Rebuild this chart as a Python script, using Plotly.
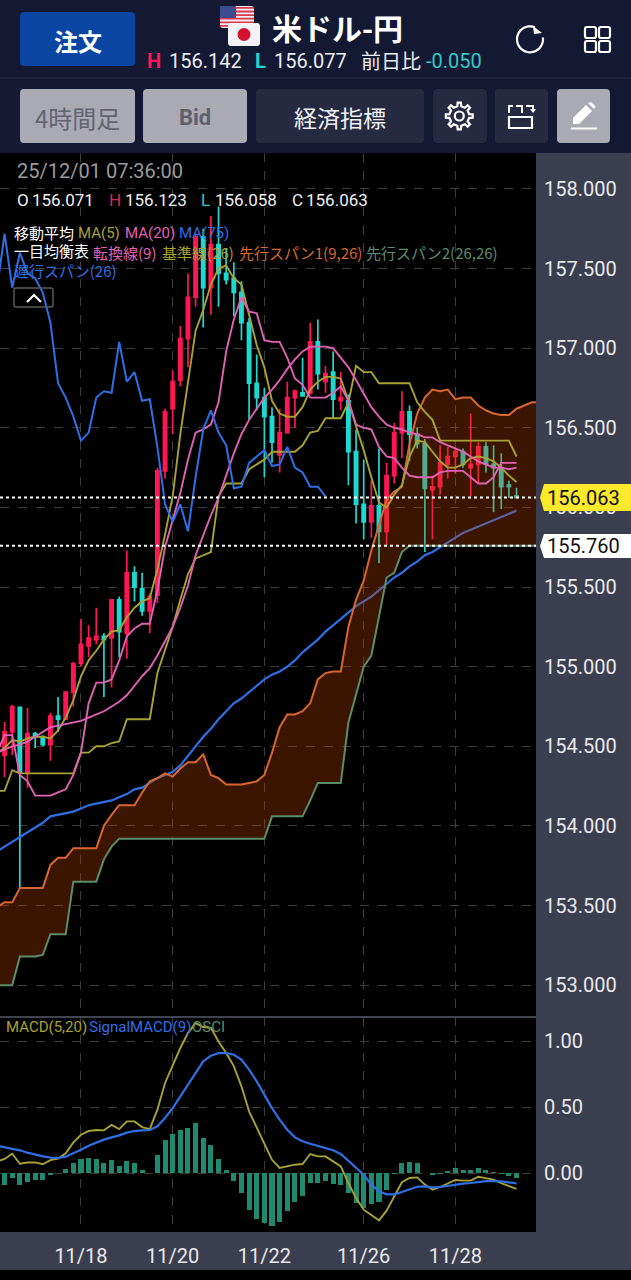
import math
import plotly.graph_objects as go
from plotly.subplots import make_subplots

W, H = 631, 1280

# ---------- data ----------
tick_index = [10, 22, 34, 47, 59]
tick_labels = ["11/18", "11/20", "11/22", "11/26", "11/28"]
price_ticks = [153, 153.5, 154, 154.5, 155, 155.5, 156, 156.5, 157, 157.5, 158]
macd_ticks = [0, 0.5, 1]
last_price = 156.063
low_price = 155.760

opens = [154.445,154.59,154.745,154.34,154.58,154.56,154.51,154.69,154.67,154.84,155.02,155.13,155.17,155.19,155.18,155.42,155.21,155.59,155.49,155.35,155.45,156.23,156.62,156.80,157.06,157.32,157.70,157.38,157.65,157.47,157.44,157.35,157.16,156.78,156.69,156.57,156.33,156.47,156.69,156.72,156.72,157.04,156.79,156.85,156.67,156.67,156.35,156.02,155.91,156.01,155.85,156.20,156.47,156.60,156.46,156.40,156.11,156.13,156.27,156.32,156.35,156.25,156.27,156.38,156.27,156.25,156.14,156.071]
highs = [154.653,154.76,154.745,154.74,154.59,154.57,154.71,154.81,154.84,155.03,155.30,155.26,155.37,155.21,155.42,155.44,155.73,155.63,155.59,155.46,156.25,156.62,156.86,157.14,157.47,157.72,157.75,157.83,157.89,157.63,157.54,157.42,157.19,156.96,156.75,156.63,156.62,156.79,156.74,156.94,157.16,157.18,156.89,156.98,156.85,156.71,156.49,156.30,156.17,156.37,156.28,156.53,156.73,156.64,156.50,156.43,156.20,156.39,156.38,156.37,156.37,156.59,156.41,156.41,156.39,156.34,156.17,156.123]
lows = [154.307,154.445,153.61,154.24,154.49,154.50,154.41,154.59,154.67,154.75,155.0,155.06,155.14,154.81,154.87,155.06,155.05,155.41,155.32,155.21,155.40,156.18,156.46,156.76,156.88,157.26,157.13,157.21,157.26,157.40,157.2,157.05,156.55,156.61,156.19,156.28,156.22,156.47,156.50,156.71,156.71,156.74,156.72,156.56,156.61,156.14,155.90,155.80,155.81,155.65,155.76,156.15,156.31,156.29,156.37,155.72,155.80,156.08,156.18,156.21,156.25,156.07,156.15,156.22,155.97,155.99,156.06,156.058]
closes = [154.59,154.747,154.34,154.58,154.56,154.51,154.69,154.67,154.84,155.02,155.14,155.18,155.19,155.17,155.42,155.22,155.59,155.50,155.35,155.44,156.23,156.60,156.79,157.06,157.32,157.70,157.38,157.65,157.47,157.43,157.35,157.16,156.78,156.69,156.57,156.41,156.47,156.69,156.73,156.70,157.04,156.84,156.84,156.68,156.69,156.35,156.02,155.91,156.01,155.85,156.20,156.47,156.60,156.46,156.40,156.12,156.13,156.28,156.32,156.35,156.27,156.27,156.38,156.27,156.25,156.13,156.13,156.063]

ma5 = [154.46,154.49,154.54,154.53,154.55,154.56,154.56,154.55,154.60,154.68,154.79,154.94,155.04,155.10,155.17,155.22,155.23,155.31,155.37,155.41,155.43,155.61,155.83,156.07,156.46,156.79,157.11,157.24,157.40,157.50,157.52,157.44,157.40,157.21,157.02,156.88,156.67,156.59,156.57,156.57,156.63,156.74,156.79,156.82,156.82,156.81,156.67,156.51,156.36,156.19,156.03,156.0,156.08,156.14,156.32,156.42,156.41,156.35,156.29,156.25,156.25,156.27,156.31,156.32,156.31,156.29,156.25,156.20,156.16]
ma20 = [154.46,154.48,154.50,154.51,154.53,154.56,154.59,154.62,154.63,154.64,154.65,154.66,154.68,154.70,154.72,154.75,154.78,154.82,154.88,154.94,154.99,155.07,155.16,155.25,155.37,155.51,155.70,155.83,155.95,156.06,156.20,156.34,156.46,156.55,156.62,156.69,156.74,156.80,156.87,156.93,156.98,157.01,157.01,157.01,157.0,156.94,156.88,156.80,156.71,156.63,156.57,156.52,156.50,156.49,156.47,156.46,156.44,156.44,156.41,156.39,156.37,156.35,156.32,156.29,156.27,156.25,156.25,156.24,156.25]
ma75 = [153.84,153.87,153.90,153.93,153.96,153.99,154.02,154.06,154.07,154.08,154.09,154.11,154.13,154.14,154.15,154.16,154.18,154.20,154.23,154.24,154.27,154.30,154.32,154.34,154.38,154.44,154.50,154.56,154.61,154.67,154.72,154.77,154.80,154.84,154.88,154.92,154.95,154.97,155.00,155.04,155.09,155.13,155.17,155.22,155.26,155.30,155.34,155.38,155.41,155.44,155.48,155.52,155.56,155.59,155.63,155.66,155.70,155.72,155.75,155.78,155.81,155.84,155.86,155.88,155.90,155.92,155.94,155.96,155.98]
tenkan = [154.46,154.57,154.57,154.32,154.28,154.19,154.19,154.19,154.21,154.23,154.32,154.46,154.77,154.90,154.90,154.92,155.04,155.19,155.24,155.27,155.27,155.48,155.75,155.92,156.09,156.30,156.47,156.49,156.52,156.66,156.98,157.18,157.32,157.23,157.22,157.05,157.04,157.04,156.94,156.81,156.77,156.69,156.69,156.69,156.72,156.76,156.67,156.52,156.50,156.49,156.38,156.32,156.31,156.25,156.20,156.19,156.19,156.19,156.22,156.23,156.23,156.23,156.19,156.15,156.15,156.19,156.28,156.28,156.28]
kijun = [154.22,154.22,154.35,154.33,154.33,154.33,154.33,154.33,154.33,154.33,154.33,154.46,154.46,154.50,154.50,154.52,154.53,154.67,154.67,154.67,154.67,154.96,155.10,155.25,155.42,155.58,155.68,155.70,155.72,156.07,156.15,156.15,156.15,156.24,156.27,156.30,156.35,156.35,156.35,156.35,156.39,156.47,156.48,156.56,156.56,156.56,156.66,156.89,156.85,156.85,156.78,156.78,156.78,156.78,156.78,156.66,156.60,156.55,156.42,156.42,156.42,156.42,156.42,156.42,156.42,156.42,156.42,156.42,156.32]
chikou = [157.37,157.72,157.38,157.60,157.47,157.44,157.35,157.16,156.78,156.69,156.57,156.42,156.47,156.69,156.73,156.72,157.04,156.79,156.85,156.67,156.68,156.38,156.02,155.91,156.02,155.85,156.19,156.49,156.61,156.47,156.39,156.12,156.13,156.28,156.32,156.36,156.26,156.27,156.38,156.25,156.22,156.13,156.13,156.07]
span1 = [153.49,153.52,153.52,153.61,153.61,153.61,153.61,153.755,153.80,153.80,153.86,153.86,153.86,153.86,154.0,154.07,154.13,154.13,154.13,154.21,154.28,154.30,154.33,154.31,154.36,154.40,154.40,154.45,154.32,154.30,154.26,154.26,154.26,154.27,154.28,154.32,154.46,154.62,154.70,154.70,154.72,154.77,154.92,154.96,154.97,154.97,155.25,155.42,155.54,155.73,155.89,156.05,156.10,156.13,156.40,156.59,156.69,156.74,156.73,156.74,156.68,156.69,156.69,156.64,156.61,156.59,156.58,156.58,156.62,156.64,156.66,156.66]
span2 = [153.0,153.0,153.0,153.18,153.18,153.18,153.19,153.32,153.32,153.32,153.65,153.65,153.65,153.65,153.79,153.87,153.92,153.92,153.92,153.92,153.92,153.92,153.92,153.92,153.92,153.92,153.92,153.92,153.92,153.92,153.92,153.92,153.92,153.92,153.92,153.92,154.06,154.06,154.06,154.06,154.06,154.16,154.27,154.27,154.27,154.27,154.65,154.83,155.0,155.07,155.31,155.56,155.59,155.72,155.76,155.76,155.76,155.76,155.76,155.76,155.76,155.76,155.76,155.76,155.76,155.76,155.76,155.76,155.76,155.76,155.76,155.76]
macd = [0.088,0.106,0.146,0.07,0.08,0.08,0.066,0.098,0.109,0.15,0.232,0.29,0.318,0.326,0.323,0.364,0.333,0.391,0.391,0.348,0.333,0.48,0.682,0.82,0.947,1.06,1.136,1.106,1.10,0.997,0.91,0.81,0.657,0.467,0.341,0.215,0.10,0.038,0.05,0.063,0.068,0.144,0.126,0.126,0.088,0.05,-0.076,-0.19,-0.278,-0.316,-0.359,-0.285,-0.177,-0.07,-0.038,-0.033,-0.088,-0.126,-0.106,-0.08,-0.053,-0.058,-0.058,-0.028,-0.038,-0.05,-0.076,-0.096,-0.121]
signal = [0.207,0.197,0.187,0.172,0.154,0.139,0.126,0.116,0.114,0.124,0.149,0.177,0.207,0.232,0.253,0.27,0.285,0.306,0.318,0.323,0.326,0.354,0.417,0.492,0.581,0.669,0.758,0.846,0.889,0.909,0.909,0.896,0.859,0.783,0.694,0.593,0.492,0.404,0.328,0.27,0.24,0.222,0.207,0.192,0.172,0.144,0.093,0.043,-0.013,-0.088,-0.139,-0.162,-0.162,-0.144,-0.121,-0.104,-0.101,-0.109,-0.106,-0.096,-0.088,-0.081,-0.076,-0.066,-0.061,-0.061,-0.063,-0.071,-0.078]
osci = [-0.09,-0.04,-0.093,-0.068,-0.053,-0.053,-0.018,0.0,0.03,0.076,0.109,0.114,0.104,0.076,0.098,0.053,0.088,0.073,0.02,0.003,0.136,0.25,0.298,0.328,0.343,0.376,0.265,0.21,0.109,0.023,-0.063,-0.15,-0.278,-0.346,-0.381,-0.404,-0.374,-0.29,-0.22,-0.172,-0.076,-0.076,-0.06,-0.086,-0.09,-0.15,-0.227,-0.265,-0.235,-0.222,-0.126,-0.005,0.076,0.086,0.073,0.003,-0.015,-0.005,0.018,0.038,0.025,0.02,0.038,0.025,0.008,-0.008,-0.02,-0.038]

# ---------- colours ----------
NAVY = "#131933"
PANEL = "#3b3e4e"
RED = "#ff1654"
CYAN = "#1fd8d0"
OLIVE = "#a9a233"
PINK = "#e162b4"
BLUE = "#2f6fe6"
ORANGE = "#d9662f"
GREEN = "#5b8c6c"
TEAL = "#1f8a70"
GRID = "#3d3d3d"
SANS = "Roboto, 'Noto Sans CJK JP', sans-serif"
CJK = "'Noto Sans CJK JP', Roboto, sans-serif"

# ---------- figure ----------
fig = make_subplots(rows=2, cols=1, shared_xaxes=True, vertical_spacing=0)

cx = list(range(len(opens)))
lx = list(range(-1, len(ma5) - 1))
kx = list(range(-1, len(span1) - 1))


def line(xs, ys, color, row=1, width=1.9):
    fig.add_trace(go.Scatter(x=xs, y=ys, mode="lines", line=dict(color=color, width=width)), row=row, col=1)


fig.add_trace(go.Candlestick(
    x=cx, open=opens, high=highs, low=lows, close=closes,
    increasing=dict(line=dict(color=RED, width=1.7), fillcolor=RED),
    decreasing=dict(line=dict(color=CYAN, width=1.7), fillcolor=CYAN),
), row=1, col=1)
line(lx, ma75, BLUE, width=2.2)
line(kx, span1, ORANGE, width=2)
fig.add_trace(go.Scatter(x=kx, y=span2, mode="lines", line=dict(color=GREEN, width=2),
                         fill="tonexty", fillcolor="rgba(200,70,0,0.30)"), row=1, col=1)
line(lx, ma5, OLIVE)
line(lx, kijun, OLIVE)
line(lx, ma20, PINK)
line(lx, tenkan, PINK)
line(lx[:len(chikou)], chikou, BLUE, width=2)

fig.add_trace(go.Bar(x=cx, y=osci, marker=dict(color=TEAL, line=dict(width=0)), width=0.66), row=2, col=1)
line(lx, macd, OLIVE, row=2)
line(lx, signal, BLUE, row=2, width=2.2)

axis_font = dict(family=SANS, size=20, color="#e9e9ec")
fig.update_xaxes(range=[-0.6, 69.55], tickmode="array", tickvals=tick_index, ticktext=tick_labels,
                 showgrid=True, gridcolor=GRID, griddash="dash", gridwidth=1, zeroline=False,
                 rangeslider_visible=False, showline=False, tickfont=axis_font,
                 ticks="outside", ticklen=6, tickcolor="rgba(0,0,0,0)")
fig.update_xaxes(showticklabels=False, ticks="", row=1, col=1)
fig.update_yaxes(side="right", showgrid=True, gridcolor=GRID, griddash="dash", gridwidth=1, zeroline=False,
                 tickfont=axis_font, ticks="outside", ticklen=3, tickcolor="rgba(0,0,0,0)", showline=False)
fig.update_yaxes(range=[152.80, 158.226], tickmode="array", tickvals=price_ticks, tickformat=".3f", row=1, col=1)
fig.update_yaxes(range=[-0.447, 1.182], tickmode="array", tickvals=macd_ticks, tickformat=".2f", row=2, col=1)

fig.update_layout(
    width=W, height=H, autosize=False, margin=dict(l=0, r=0, t=0, b=0),
    paper_bgcolor=PANEL, plot_bgcolor="#000000", showlegend=False, hovermode=False,
    barmode="overlay", boxgap=0.4, bargap=0,
    xaxis=dict(domain=[0, 536 / W]), xaxis2=dict(domain=[0, 536 / W]),
    yaxis=dict(domain=[1 - 1017 / H, 1 - 153 / H]),
    yaxis2=dict(domain=[1 - 1232 / H, 1 - 1017 / H]),
)

# ---------- page chrome, in pixels ----------
shapes = []
annots = []


def px(x):
    return x / W


def py(y):
    return 1 - y / H


def rect(x0, y0, x1, y1, fill, r=0, lc=None, lw=0):
    p = (f"M{px(x0 + r)},{py(y0)} L{px(x1 - r)},{py(y0)} Q{px(x1)},{py(y0)} {px(x1)},{py(y0 + r)} "
         f"L{px(x1)},{py(y1 - r)} Q{px(x1)},{py(y1)} {px(x1 - r)},{py(y1)} L{px(x0 + r)},{py(y1)} "
         f"Q{px(x0)},{py(y1)} {px(x0)},{py(y1 - r)} L{px(x0)},{py(y0 + r)} Q{px(x0)},{py(y0)} {px(x0 + r)},{py(y0)} Z")
    shapes.append(dict(type="path", xref="paper", yref="paper", path=p, fillcolor=fill,
                       line=dict(color=lc or "rgba(0,0,0,0)", width=lw), layer="above"))


def poly(points, fill=None, lc=None, lw=0, close=True):
    p = "M" + " L".join(f"{px(a)},{py(b)}" for a, b in points) + (" Z" if close else "")
    shapes.append(dict(type="path", xref="paper", yref="paper", path=p,
                       fillcolor=fill or "rgba(0,0,0,0)",
                       line=dict(color=lc or "rgba(0,0,0,0)", width=lw), layer="above"))


def text(x, y, s, size, color="#ffffff", anchor="left", font=SANS, bold=False):
    if bold:
        s = f"<b>{s}</b>"
    annots.append(dict(xref="paper", yref="paper", x=px(x), y=py(y), text=s, showarrow=False,
                       xanchor=anchor, yanchor="middle", xshift=0, align=anchor,
                       font=dict(family=font, size=size, color=color), borderpad=0, borderwidth=0))


# header band
rect(0, 0, 631, 153, NAVY)
poly([(0, 78), (631, 78)], lc="#2b3047", lw=1, close=False)
rect(0, 1270, 631, 1280, "#000000")
poly([(0, 1017), (536, 1017)], lc="#55586a", lw=1.5, close=False)

rect(20, 12, 135, 66, "#0a45a3", r=4)
text(77.5, 40, "注文", 24, font=CJK, anchor="center", bold=True)

# flags
rect(220, 6, 254, 28, "#eef0f4", r=3)
for k in range(6):
    rect(220, 7 + k * 3.6, 254, 8.8 + k * 3.6, "#dc3650")
rect(220, 6, 236, 18, "#3d4c8e", r=1)
rect(228, 23, 260, 46, "#f3f3f5", r=3)
shapes.append(dict(type="circle", xref="paper", yref="paper", x0=px(237.5), x1=px(250.5), y0=py(41), y1=py(28),
                   fillcolor="#d5122e", line=dict(width=0), layer="above"))

text(337, 27, "米ドル-円", 30, font=CJK, anchor="center", bold=True)
text(147, 61, "H", 20, RED, bold=True)
text(169, 61, "156.142", 20, "#ecedf0")
text(255, 61, "L", 20, CYAN, bold=True)
text(274, 61, "156.077", 20, "#ecedf0")
text(361, 61, "前日比", 20, "#ecedf0", font=CJK)
text(426, 61, "-0.050", 20, "#35c9c4")

# refresh icon
arc = [(530 + 13 * math.cos(math.radians(a)), 39.3 + 13 * math.sin(math.radians(a))) for a in range(-8, 298, 10)]
poly(arc, lc="#ffffff", lw=2.2, close=False)
poly([(533, 26), (542, 33), (534, 34)], fill="#ffffff")
# grid icon
for gx in (585, 599):
    for gy in (27, 41):
        rect(gx, gy, gx + 11, gy + 11, "rgba(0,0,0,0)", r=2, lc="#ffffff", lw=2.2)

# toolbar
rect(20, 89, 135, 143, "#a9aab4", r=4)
text(77.5, 117, "4時間足", 24, "#62646f", font=CJK, anchor="center")
rect(143, 89, 247, 143, "#a9aab4", r=4)
text(195, 117, "Bid", 22, "#5e606c", anchor="center", bold=True)
rect(256, 89, 424, 143, "#262a41", r=4)
text(340, 117, "経済指標", 23, "#f0f0f4", font=CJK, anchor="center")
rect(433, 89, 487, 143, "#262a41", r=4)
rect(495, 89, 548, 143, "#262a41", r=4)
rect(557, 89, 610, 143, "#a9aab4", r=4)
# gear
gear = []
for n in range(8):
    base = n * 45
    for da, rad in ((-11, 10), (-7, 13.5), (7, 13.5), (11, 10)):
        a = math.radians(base + da)
        gear.append((459.3 + rad * math.cos(a), 116 + rad * math.sin(a)))
poly(gear, lc="#ffffff", lw=2.2)
shapes.append(dict(type="circle", xref="paper", yref="paper", x0=px(454.8), x1=px(463.8), y0=py(120.5), y1=py(111.5),
                   line=dict(color="#ffffff", width=2.2), layer="above"))
# screen rotate
rect(509, 117, 532, 128, "rgba(0,0,0,0)", lc="#ffffff", lw=2.2)
poly([(509, 113), (509, 106), (513, 106)], lc="#ffffff", lw=2, close=False)
poly([(516, 106), (522, 106), (522, 113)], lc="#ffffff", lw=2, close=False)
poly([(526, 106), (533, 106), (533, 110)], lc="#ffffff", lw=2, close=False)
poly([(530, 109), (536, 109), (533, 113)], fill="#ffffff")
# pencil
poly([(573, 124), (573, 118), (586, 105), (592, 111), (579, 124)], fill="#ffffff")
poly([(588, 103), (591, 102), (595.5, 106.5), (594, 109)], fill="#ffffff")
poly([(571, 128.5), (597, 128.5)], lc="#ffffff", lw=2, close=False)

# chart texts
text(17, 171, "25/12/01 07:36:00", 20, "#9a9a9a")
text(17, 200, "O", 17, "#f0f0f0")
text(32, 200, "156.071", 17, "#f0f0f0")
text(109, 200, "H", 17, "#d52a50")
text(125, 200, "156.123", 17, "#f0f0f0")
text(201, 200, "L", 17, "#35c9c4")
text(215, 200, "156.058", 17, "#f0f0f0")
text(292, 200, "C", 17, "#f0f0f0")
text(306, 200, "156.063", 17, "#f0f0f0")

text(14, 232, "移動平均", 15, font=CJK)
text(78, 233, "MA(5)", 15, OLIVE)
text(125, 233, "MA(20)", 15, PINK)
text(179, 233, "MA(75)", 15, BLUE)
text(14, 251, "一目均衡表", 15, font=CJK)
text(93, 252, "転換線(9)", 15, PINK, font=CJK)
text(162, 252, "基準線(26)", 15, OLIVE, font=CJK)
text(239, 252, "先行スパン1(9,26)", 15, ORANGE, font=CJK)
text(366, 252, "先行スパン2(26,26)", 15, GREEN, font=CJK)
text(14, 270, "遅行スパン(26)", 15, BLUE, font=CJK)
rect(14, 288, 53, 307, "rgba(0,0,0,0)", r=2, lc="#5a5a5a", lw=1.5)
poly([(27, 302), (34, 295), (41, 302)], lc="#ffffff", lw=2.2, close=False)

text(6, 1027, "MACD(5,20)", 15, OLIVE)
text(89, 1027, "SignalMACD(9)", 15, BLUE)
text(192, 1027, "OSCI", 15, GREEN)

# price flags
poly([(540, 497.5), (544, 484), (631, 484), (631, 511), (544, 511)], fill="#fde92b")
text(547, 497.5, "156.063", 20, "#111111")
poly([(540, 546), (544, 534), (631, 534), (631, 558), (544, 558)], fill="#ffffff")
text(547, 546, "155.760", 20, "#111111")

# dotted price levels come from the values above
for level in (last_price, low_price):
    shapes.append(dict(type="line", xref="x", yref="y", x0=-0.6, x1=69.55, y0=level, y1=level,
                       line=dict(color="#ffffff", width=2, dash="dot"), layer="above"))

fig.update_layout(shapes=shapes, annotations=annots)

fig.write_html("out.html", config=dict(displayModeBar=False, staticPlot=True),
               post_script="document.body.style.margin='0';document.documentElement.style.overflow='hidden';")
